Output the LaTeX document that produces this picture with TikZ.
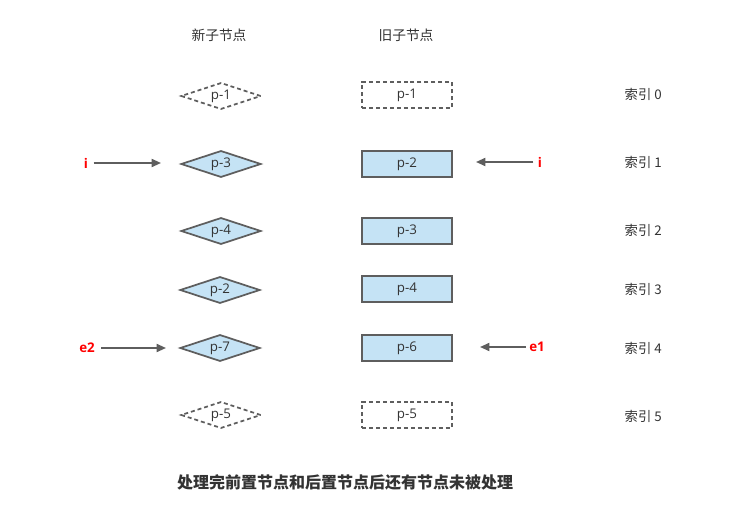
\documentclass[tikz,border=0pt]{standalone}
\usepackage{fontspec}
\setmainfont{Open Sans}
\newfontfamily\cjk{Noto Sans CJK SC}
\usetikzlibrary{shapes.geometric,arrows.meta}
\definecolor{nodefill}{HTML}{C5E3F5}
\definecolor{edge}{HTML}{5E5E5E}
\definecolor{txt}{HTML}{333333}
\definecolor{ptr}{HTML}{FF0000}
\tikzset{
  px/.style={x=0.75pt,y=-0.75pt},
  newnode/.style={diamond,aspect=3,minimum width=60pt,minimum height=20pt,inner sep=0pt,draw=edge,line width=1.3pt,fill=nodefill,text=txt,font=\fontsize{10}{12}\selectfont},
  newghost/.style={newnode,fill=none,line width=1.3pt,dash pattern=on 3pt off 2.2pt},
  oldnode/.style={rectangle,minimum width=67pt,minimum height=19.5pt,inner sep=0pt,draw=edge,line width=1.3pt,fill=nodefill,text=txt,font=\fontsize{10}{12}\selectfont},
  oldghost/.style={oldnode,fill=none,line width=1.3pt,dash pattern=on 3pt off 2.2pt},
  header/.style={text=txt,font=\cjk\fontsize{10.3}{12}\selectfont},
  idx/.style={anchor=west,text=txt,font=\cjk\fontsize{10}{12}\selectfont},
  ptrlabel/.style={text=ptr,font=\bfseries\fontsize{10}{12}\selectfont},
  ptrarrow/.style={draw=edge,line width=1.3pt,-{Triangle[length=7pt,width=6pt]}},
  title/.style={text=txt,font=\cjk\bfseries\fontsize{12}{14}\selectfont}
}
\begin{document}
\begin{tikzpicture}[px]
\useasboundingbox (0,0) rectangle (746,520);
\node[header] (hn) at (219,35) {新子节点};
\node[header] (ho) at (406,35) {旧子节点};
% new children
\node[newghost] (n0) at (221,96) {p-1};
\node[newnode] (n1) at (221,164) {p-3};
\node[newnode] (n2) at (221,231) {p-4};
\node[newnode] (n3) at (220,290) {p-2};
\node[newnode] (n4) at (220,348) {p-7};
\node[newghost] (n5) at (221,415) {p-5};
% old children
\node[oldghost] (o0) at (407,95) {p-1};
\node[oldnode] (o1) at (407,164) {p-2};
\node[oldnode] (o2) at (407,231) {p-3};
\node[oldnode] (o3) at (407,289) {p-4};
\node[oldnode] (o4) at (407,348) {p-6};
\node[oldghost] (o5) at (407,415) {p-5};
% indices
\node[idx] (i0) at (620,94) {索引 0};
\node[idx] (i1) at (620,162) {索引 1};
\node[idx] (i2) at (620,230) {索引 2};
\node[idx] (i3) at (620,289) {索引 3};
\node[idx] (i4) at (620,348) {索引 4};
\node[idx] (i5) at (620,416) {索引 5};
% pointers
\node[ptrlabel] (pi) at (86,163) {i};
\coordinate (pie) at (161,163);
\draw[ptrarrow] (pi.east) ++(1,0) -- (pie);
\node[ptrlabel] (pj) at (540,162) {i};
\coordinate (pje) at (476,162);
\draw[ptrarrow] (pj.west) -- (pje);
\node[ptrlabel] (pe2) at (87,348) {e2};
\coordinate (pe2e) at (166,348);
\draw[ptrarrow] (pe2.east) ++(2,0) -- (pe2e);
\node[ptrlabel] (pe1) at (537,347) {e1};
\coordinate (pe1e) at (480,347);
\draw[ptrarrow] (pe1.west) ++(1,0) -- (pe1e);
\node[title] (t) at (345,482) {处理完前置节点和后置节点后还有节点未被处理};
\end{tikzpicture}
\end{document}
